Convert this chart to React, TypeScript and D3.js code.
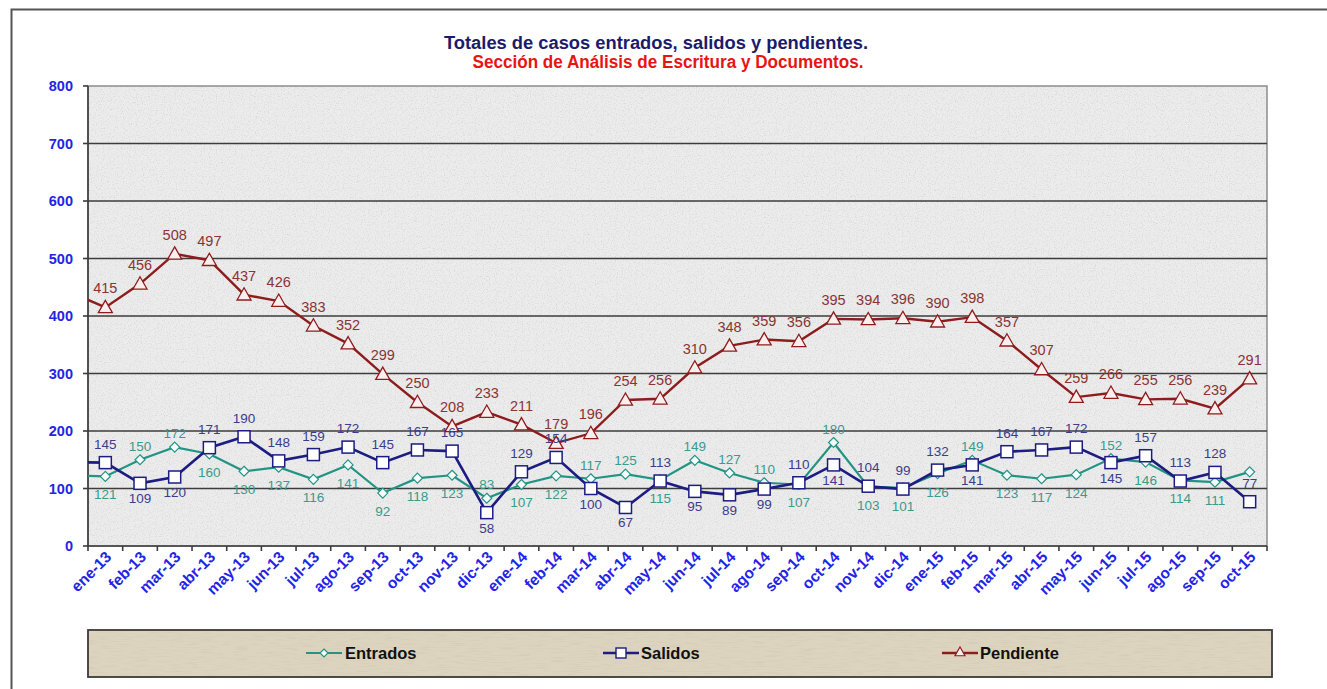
import React from "react";
import * as d3 from "d3";

const months = ["ene-13","feb-13","mar-13","abr-13","may-13","jun-13","jul-13","ago-13","sep-13","oct-13","nov-13","dic-13","ene-14","feb-14","mar-14","abr-14","may-14","jun-14","jul-14","ago-14","sep-14","oct-14","nov-14","dic-14","ene-15","feb-15","mar-15","abr-15","may-15","jun-15","jul-15","ago-15","sep-15","oct-15"];
const entrados = [121,150,172,160,130,137,116,141,92,118,123,83,107,122,117,125,115,149,127,110,107,180,103,101,126,149,123,117,124,152,146,114,111,129];
const salidos = [145,109,120,171,190,148,159,172,145,167,165,58,129,154,100,67,113,95,89,99,110,141,104,99,132,141,164,167,172,145,157,113,128,77];
const pendiente = [415,456,508,497,437,426,383,352,299,250,208,233,211,179,196,254,256,310,348,359,356,395,394,396,390,398,357,307,259,266,255,256,239,291];
// previous month (dic-12), drawn outside the clipped plot area
const prevValues = { entrados: 123, salidos: 146, pendiente: 441 };
// label placement: 1 above, -1 below, 0 hidden
const entradosPos = [-1,1,1,-1,-1,-1,-1,-1,-1,-1,-1,1,-1,-1,1,1,-1,1,1,1,-1,1,-1,-1,-1,1,-1,-1,-1,1,-1,-1,-1,0];
const salidosPos = [1,-1,-1,1,1,1,1,1,1,1,1,-1,1,1,-1,-1,1,-1,-1,-1,1,-1,1,1,1,-1,1,1,1,-1,1,1,1,1];
const yTicks = [0,100,200,300,400,500,600,700,800];

const W = 1327, H = 689;
const L = 88, R = 1267, T = 86, B = 546;

export default function App() {
  const x = d3.scaleBand<string>().domain(months).range([L, R]).padding(0);
  const bw = x.bandwidth();
  const cx = (i: number) => (x(months[i]) as number) + bw / 2;
  const y = d3.scaleLinear().domain([0, 800]).range([B, T]);
  const line = d3.line<[number, number]>().x(d => d[0]).y(d => d[1]);
  const pts = (arr: number[], prev: number): [number, number][] =>
    [[L - bw / 2, y(prev)] as [number, number]].concat(arr.map((v, i) => [cx(i), y(v)] as [number, number]));

  const cEnt = "#229484", cSal = "#1c1c82", cPen = "#8e1c1c";
  const lEnt = "#3a9a8c", lSal = "#3c3c8c", lPen = "#8a3434";
  const font = "Arial, 'Liberation Sans', sans-serif";
  const narrow = "'Liberation Sans Narrow', 'Arial Narrow', Arial, sans-serif";

  const diamond = (px: number, py: number, s = 5) => `M${px},${py - s}L${px + s},${py}L${px},${py + s}L${px - s},${py}Z`;
  const tri = (px: number, py: number, s = 7) => `M${px},${py - s}L${px + s},${py + s * 0.75}L${px - s},${py + s * 0.75}Z`;

  return (
    <svg width={W} height={H} style={{ position: "absolute", left: 0, top: 0, display: "block" }} fontFamily={font}>
      <defs>
        <filter id="granite" x="0" y="0" width="100%" height="100%">
          <feTurbulence type="fractalNoise" baseFrequency="0.85" numOctaves="2" seed="3" result="n" />
          <feColorMatrix in="n" type="matrix" values="0 0 0 0 0.62  0 0 0 0 0.62  0 0 0 0 0.62  3 0 0 0 -1.45" />
        </filter>
        <filter id="burlap" x="0" y="0" width="100%" height="100%">
          <feTurbulence type="fractalNoise" baseFrequency="0.06 0.8" numOctaves="2" seed="5" result="n" />
          <feColorMatrix in="n" type="matrix" values="0 0 0 0 0.62  0 0 0 0 0.56  0 0 0 0 0.46  3 0 0 0 -1.45" />
        </filter>
        <clipPath id="plotClip2"><rect x={L} y={0} width={R - L + 20} height={H} /></clipPath>
      </defs>
      <rect x={0} y={0} width={W} height={H} fill="#ffffff" />
      {/* outer border */}
      <path d={`M${W},9.5H11.5V${H}`} fill="none" stroke="#555" strokeWidth={2} />

      {/* title */}
      <text x={656} y={49} textAnchor="middle" fontSize={18} fontWeight="bold" fill="#1b1b6b" textLength={424} lengthAdjust="spacingAndGlyphs">Totales de casos entrados, salidos y pendientes.</text>
      <text x={668} y={68} textAnchor="middle" fontSize={18} fontWeight="bold" fill="#e81414" textLength={391} lengthAdjust="spacingAndGlyphs">Sección de Análisis de Escritura y Documentos.</text>

      {/* plot area */}
      <rect x={L} y={T} width={R - L} height={B - T} fill="#ececec" />
      <rect x={L} y={T} width={R - L} height={B - T} fill="#ececec" filter="url(#granite)" opacity={0.6} />
      <rect x={L} y={T} width={R - L} height={B - T} fill="none" stroke="#8c8c8c" strokeWidth={1.5} />
      {yTicks.filter(t => t > 0 && t < 800).map(t => (
        <line key={t} x1={L} x2={R} y1={y(t)} y2={y(t)} stroke="#3c3c3c" strokeWidth={1.6} />
      ))}
      {/* axes */}
      <line x1={L} x2={L} y1={T} y2={B} stroke="#3c3c3c" strokeWidth={1.6} />
      <line x1={L} x2={R} y1={B} y2={B} stroke="#3c3c3c" strokeWidth={1.6} />
      {yTicks.map(t => (
        <g key={t}>
          <line x1={L - 5} x2={L} y1={y(t)} y2={y(t)} stroke="#3c3c3c" strokeWidth={1.6} />
          <text x={73} y={y(t) + 5} textAnchor="end" fontSize={14.5} fontWeight="bold" fill="#2424e6">{t}</text>
        </g>
      ))}
      {months.map((m) => (
        <line key={"tk" + m} x1={x(m) as number} x2={x(m) as number} y1={B} y2={B + 5} stroke="#3c3c3c" strokeWidth={1.6} />
      ))}
      <line x1={R} x2={R} y1={B} y2={B + 5} stroke="#3c3c3c" strokeWidth={1.6} />
      {months.map((m, i) => (
        <text key={"xl" + m} transform={`translate(${cx(i) + 7},${B + 12}) rotate(-45)`} textAnchor="end" fontSize={15.5} fontWeight="bold" fill="#2424e6">{m}</text>
      ))}

      {/* lines */}
      <g clipPath="url(#plotClip2)">
        <path d={line(pts(pendiente, prevValues.pendiente)) || ""} fill="none" stroke={cPen} strokeWidth={2.4} />
        <path d={line(pts(entrados, prevValues.entrados)) || ""} fill="none" stroke={cEnt} strokeWidth={2.2} />
        <path d={line(pts(salidos, prevValues.salidos)) || ""} fill="none" stroke={cSal} strokeWidth={2.6} />
      </g>
      {/* markers */}
      {pendiente.map((v, i) => (
        <path key={"pm" + i} d={tri(cx(i), y(v))} fill="#fbeeee" stroke={cPen} strokeWidth={1.3} />
      ))}
      {entrados.map((v, i) => (
        <path key={"em" + i} d={diamond(cx(i), y(v))} fill="#f4fbfa" stroke={cEnt} strokeWidth={1.2} />
      ))}
      {salidos.map((v, i) => (
        <rect key={"sm" + i} x={cx(i) - 6} y={y(v) - 6} width={12} height={12} fill="#ffffff" stroke={cSal} strokeWidth={1.5} />
      ))}

      {/* data labels */}
      {pendiente.map((v, i) => (
        <text key={"pl" + i} x={cx(i)} y={y(v) - 14} textAnchor="middle" fontSize={14.5} fill={lPen}>{v}</text>
      ))}
      {entrados.map((v, i) => entradosPos[i] === 0 ? null : (
        <text key={"el" + i} x={cx(i)} y={entradosPos[i] > 0 ? y(v) - 9 : y(v) + 23} textAnchor="middle" fontSize={13.5} fill={lEnt}>{v}</text>
      ))}
      {salidos.map((v, i) => (
        <text key={"sl" + i} x={cx(i)} y={salidosPos[i] > 0 ? y(v) - 14 : y(v) + 20} textAnchor="middle" fontSize={13.5} fill={lSal}>{v}</text>
      ))}

      {/* legend */}
      <rect x={88} y={630} width={1184} height={47} fill="#ddd4bf" />
      <rect x={88} y={630} width={1184} height={47} fill="#ddd4bf" filter="url(#burlap)" opacity={0.5} />
      <rect x={88} y={630} width={1184} height={47} fill="none" stroke="#3a3a3a" strokeWidth={1.8} />
      <g>
        <line x1={306} x2={342} y1={653} y2={653} stroke={cEnt} strokeWidth={2.2} />
        <path d={diamond(324, 653, 4)} fill="#f4fbfa" stroke={cEnt} strokeWidth={1.2} />
        <text x={345} y={659} fontSize={16.5} fontWeight="bold" fill="#111" fontFamily={narrow}>Entrados</text>
        <line x1={603} x2={639} y1={653} y2={653} stroke={cSal} strokeWidth={2.4} />
        <rect x={616} y={648} width={10} height={10} fill="#fff" stroke={cSal} strokeWidth={1.4} />
        <text x={641} y={659} fontSize={16.5} fontWeight="bold" fill="#111" fontFamily={narrow}>Salidos</text>
        <line x1={942} x2={978} y1={653} y2={653} stroke={cPen} strokeWidth={2.4} />
        <path d={tri(960, 652, 5)} fill="#fbeeee" stroke={cPen} strokeWidth={1.2} />
        <text x={980} y={659} fontSize={16.5} fontWeight="bold" fill="#111" fontFamily={narrow}>Pendiente</text>
      </g>
    </svg>
  );
}
